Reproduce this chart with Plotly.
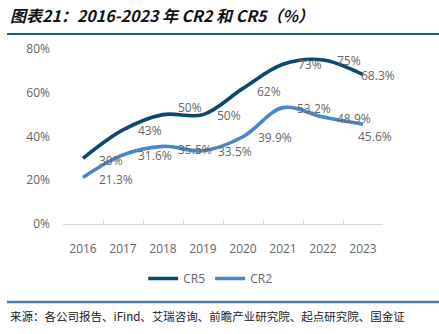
import plotly.graph_objects as go

years = ["2016", "2017", "2018", "2019", "2020", "2021", "2022", "2023"]
cr5 = [30, 43, 50, 50, 62, 73, 75, 68.3]
cr2 = [21.3, 31.6, 35.5, 33.5, 39.9, 53.2, 48.9, 45.6]
cr5_labels = ["30%", "43%", "50%", "50%", "62%", "73%", "75%", "68.3%"]
cr2_labels = ["21.3%", "31.6%", "35.5%", "33.5%", "39.9%", "53.2%", "48.9%", "45.6%"]
y_ticks = [0, 20, 40, 60, 80]

# label nudges in pixels (x, y); y positive is up
cr5_shift = [(14, -2), (13, -1), (13, 7), (12, -1), (12, -3), (13, 0), (12, -1), (-4, -1)]
cr2_shift = [(14, -2), (13, -1), (13, -3), (13, -1), (13, -1), (12, -1), (12, -1), (-7, -12)]

C5 = "#0b4a6e"
C2 = "#4a87c8"
LABEL_COLOR = "#666666"
FONT = "Open Sans, Noto Sans CJK SC, sans-serif"

W, H = 439, 334
ML, MR, MT, MB = 63, 56, 49, 110
pw, ph = W - ML - MR, H - MT - MB


def px_to_paper(x, y):
    return (x - ML) / pw, (H - MB - y) / ph


fig = go.Figure()
fig.add_trace(go.Scatter(x=years, y=cr5, name="CR5", mode="lines",
                         line=dict(color=C5, width=3.6, shape="spline", smoothing=1)))
fig.add_trace(go.Scatter(x=years, y=cr2, name="CR2", mode="lines",
                         line=dict(color=C2, width=3.6, shape="spline", smoothing=1)))

annotations = []
for vals, labels, shifts in ((cr5, cr5_labels, cr5_shift), (cr2, cr2_labels, cr2_shift)):
    for i, (v, t, (dx, dy)) in enumerate(zip(vals, labels, shifts)):
        annotations.append(dict(x=i, y=v, xref="x", yref="y", text=t, showarrow=False,
                                xanchor="left", yanchor="middle", xshift=dx, yshift=dy,
                                font=dict(size=12, color=LABEL_COLOR, family=FONT)))

# header and footer text
hx, hy = px_to_paper(8, 15)
annotations.append(dict(x=hx, y=hy, xref="paper", yref="paper",
                        text="<b><i>图表21：2016-2023 年 CR2 和 CR5（%）</i></b>",
                        showarrow=False, xanchor="left", yanchor="middle",
                        font=dict(size=16, color="#111111", family="Noto Sans CJK SC")))
fx, fy = px_to_paper(8, 316)
annotations.append(dict(x=fx, y=fy, xref="paper", yref="paper",
                        text="来源：各公司报告、iFind、艾瑞咨询、前瞻产业研究院、起点研究院、国金证",
                        showarrow=False, xanchor="left", yanchor="middle",
                        font=dict(size=11.5, color="#222222", family="Noto Sans CJK SC")))

_, ly = px_to_paper(0, 264)
fig.update_layout(
    width=W, height=H,
    margin=dict(l=ML, r=MR, t=MT, b=MB),
    paper_bgcolor="white", plot_bgcolor="white",
    showlegend=True,
    legend=dict(orientation="h", x=0.46, xanchor="center", y=ly, yanchor="top",
                font=dict(size=12, color=LABEL_COLOR, family=FONT),
                itemwidth=30, tracegroupgap=0),
    font=dict(family=FONT),
    annotations=annotations,
)

fig.update_xaxes(type="category", range=[-0.5, 7.5], showgrid=False, showline=True,
                 linecolor="#d9d9d9", linewidth=1, ticks="inside", ticklen=4, tickcolor="#d9d9d9",
                 tickson="boundaries", tickfont=dict(size=12, color=LABEL_COLOR),
                 ticklabelstandoff=14, zeroline=False)
fig.update_yaxes(range=[0, 80], tickvals=y_ticks, ticktext=[f"{v}%" for v in y_ticks],
                 showgrid=False, showline=False, zeroline=False,
                 tickfont=dict(size=12, color=LABEL_COLOR), ticklabelstandoff=12)

x0, y_top = px_to_paper(7, 34)
x1, _ = px_to_paper(439, 34)
_, y_bot = px_to_paper(7, 302)
fig.add_shape(type="line", xref="paper", yref="paper", x0=x0, x1=x1, y0=y_top, y1=y_top,
              line=dict(color="#1b5f8f", width=2))
fig.add_shape(type="line", xref="paper", yref="paper", x0=x0, x1=x1, y0=y_bot, y1=y_bot,
              line=dict(color="#4d7fa6", width=2.5))

fig.write_html("out.html")
